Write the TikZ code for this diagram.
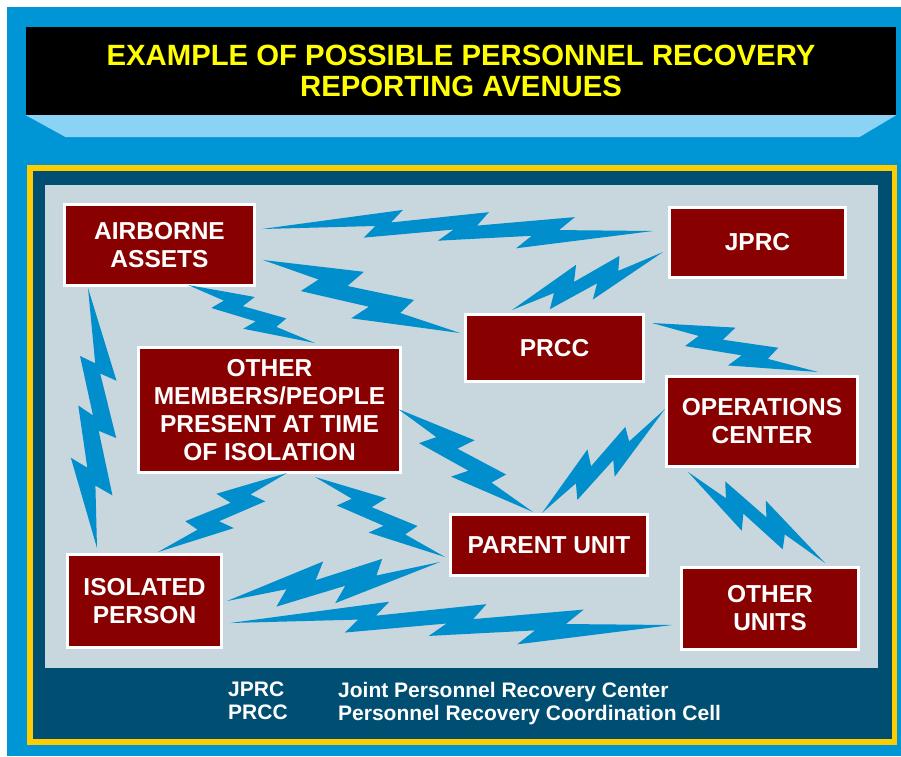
\documentclass[tikz,border=0pt]{standalone}
\usepackage{fontspec}
\setmainfont{Liberation Sans}
\usetikzlibrary{calc}
\definecolor{framesky}{HTML}{0096D6}
\definecolor{framegold}{HTML}{FFCC00}
\definecolor{paneldeep}{HTML}{004E72}
\definecolor{panelgrey}{HTML}{C8D6DD}
\definecolor{bevelsky}{HTML}{8AD3F4}
\definecolor{boxred}{HTML}{880000}
\definecolor{boltblue}{HTML}{008FCC}
\definecolor{titleyellow}{HTML}{FFFF00}
% lightning bolts: [side]{size}{from}{to}
\newcommand{\twobolt}[4][90]{%
    \pgfmathsetmacro{\blside}{#1}\pgfmathsetmacro{\brside}{0-(#1)}%
    \fill[bolt] (#3)
        -- ($(#3)!.47!(#4)!{24pt*#2}!\blside:(#4)$) -- ($(#3)!.42!(#4)!{5pt*#2}!\blside:(#4)$)
        -- ($(#3)!.74!(#4)!{15pt*#2}!\blside:(#4)$) -- ($(#3)!.70!(#4)!{2pt*#2}!\brside:(#4)$)
        -- (#4)
        -- ($(#3)!.49!(#4)!{24pt*#2}!\brside:(#4)$) -- ($(#3)!.55!(#4)!{7pt*#2}!\brside:(#4)$)
        -- ($(#3)!.22!(#4)!{16pt*#2}!\brside:(#4)$) -- ($(#3)!.28!(#4)!{1pt*#2}!\blside:(#4)$)
        -- cycle;%
}
\newcommand{\threebolt}[4][90]{%
    \pgfmathsetmacro{\blside}{#1}\pgfmathsetmacro{\brside}{0-(#1)}%
    \fill[bolt] (#3)
        -- ($(#3)!.36!(#4)!{22pt*#2}!\blside:(#4)$) -- ($(#3)!.33!(#4)!{8pt*#2}!\blside:(#4)$)
        -- ($(#3)!.58!(#4)!{20pt*#2}!\blside:(#4)$) -- ($(#3)!.55!(#4)!{5pt*#2}!\blside:(#4)$)
        -- ($(#3)!.80!(#4)!{15pt*#2}!\blside:(#4)$) -- ($(#3)!.76!(#4)!{.5pt*#2}!\blside:(#4)$)
        -- (#4)
        -- ($(#3)!.65!(#4)!{20pt*#2}!\brside:(#4)$) -- ($(#3)!.69!(#4)!{6pt*#2}!\brside:(#4)$)
        -- ($(#3)!.45!(#4)!{12pt*#2}!\brside:(#4)$) -- ($(#3)!.49!(#4)!{.5pt*#2}!\blside:(#4)$)
        -- ($(#3)!.26!(#4)!{9pt*#2}!\brside:(#4)$) -- ($(#3)!.29!(#4)!{4pt*#2}!\blside:(#4)$)
        -- cycle;%
}

\begin{document}
\begin{tikzpicture}[x=1pt, y=-1pt,
        unitbox/.style={fill=boxred, draw=white, line width=3pt, text=white, align=center,
            inner sep=0pt, font=\fontsize{24.5}{28}\selectfont\bfseries},
        bolt/.style={fill=boltblue},
        legend/.style={text=white, align=left, inner sep=0pt, anchor=north west,
            font=\fontsize{21}{23}\selectfont\bfseries}]
    \useasboundingbox (0,0) rectangle (901,756);
    \fill[white] (0,0) rectangle (901,756);
    \fill[framesky] (7,7) rectangle (901,756);

    \node[fill=black, minimum width=870pt, minimum height=88pt, inner sep=0pt, align=center,
        text=titleyellow, font=\fontsize{29.3}{31}\selectfont\bfseries] (title) at (461,71)
        {EXAMPLE OF POSSIBLE PERSONNEL RECOVERY\\REPORTING AVENUES};
    \fill[bevelsky] (title.south west) -- (title.south east) -- ++(-37,22)
        -- ($(title.south west)+(40,22)$) -- cycle;

    \fill[framegold] (27,165) rectangle (897,745);
    \fill[paneldeep] (33,171) rectangle (892,739);
    \fill[panelgrey] (45,185) rectangle (878,668);

    \node[unitbox, minimum width=190pt, minimum height=81pt] (air) at (159.5,245) {AIRBORNE\\ASSETS};
    \node[unitbox, minimum width=176pt, minimum height=70pt] (jprc) at (757.5,242.5) {JPRC};
    \node[unitbox, minimum width=178pt, minimum height=67pt] (prcc) at (554.5,348) {PRCC};
    \node[unitbox, minimum width=262pt, minimum height=125pt] (members) at (269.5,410)
        {OTHER\\MEMBERS/PEOPLE\\PRESENT AT TIME\\OF ISOLATION};
    \node[unitbox, minimum width=191pt, minimum height=90pt] (ops) at (762,421.5) {OPERATIONS\\CENTER};
    \node[unitbox, minimum width=197pt, minimum height=61pt] (parent) at (549,545) {PARENT UNIT};
    \node[unitbox, minimum width=177pt, minimum height=82pt] (others) at (770,608.5) {OTHER\\UNITS};
    \node[unitbox, minimum width=154pt, minimum height=93pt] (isolated) at (144.5,601) {ISOLATED\\PERSON};

    \node[legend] (abbr) at (228,682) {JPRC\\PRCC};
    \node[legend] (defs) at (338,682) {Joint Personnel Recovery Center\\Personnel Recovery Coordination Cell};

    \coordinate (a1) at ($(air)+(102.5,-16)$);      \coordinate (b1) at ($(jprc)+(-104.5,-11.5)$);
    \coordinate (a2) at ($(air)+(103.5,15)$);       \coordinate (b2) at ($(prcc)+(-94.5,-15)$);
    \coordinate (a3) at ($(air)+(28.5,40)$);        \coordinate (b3) at ($(members)+(45.5,-67)$);
    \coordinate (a4) at ($(prcc)+(-42.5,-38)$);     \coordinate (b4) at ($(jprc)+(-94.5,9.5)$);
    \coordinate (a5) at ($(prcc)+(97.5,-25)$);      \coordinate (b5) at ($(ops)+(56,-49.5)$);
    \coordinate (a6) at ($(air)+(-71.5,43)$);       \coordinate (b6) at ($(isolated)+(-47.5,-53)$);
    \coordinate (a7) at ($(members)+(17.5,63)$);    \coordinate (b7) at ($(isolated)+(13.5,-49)$);
    \coordinate (a8) at ($(members)+(45.5,67)$);    \coordinate (b8) at ($(parent)+(-104,12)$);
    \coordinate (a9) at ($(members)+(128.5,-1)$);   \coordinate (b9) at ($(parent)+(-16,-33)$);
    \coordinate (a10) at ($(parent)+(-7,-32)$);     \coordinate (b10) at ($(ops)+(-97,-12.5)$);
    \coordinate (a11) at ($(ops)+(-74,50.5)$);      \coordinate (b11) at ($(others)+(55,-45.5)$);
    \coordinate (a12) at ($(isolated)+(82.5,0)$);   \coordinate (b12) at ($(parent)+(-109,17)$);
    \coordinate (a13) at ($(isolated)+(85.5,22)$);  \coordinate (b13) at ($(others)+(-98,16.5)$);

    \threebolt{.9}{a1}{b1}
    \twobolt{1}{a2}{b2}
    \twobolt{.7}{a3}{b3}
    \twobolt{.8}{a4}{b4}
    \twobolt{.8}{a5}{b5}
    \threebolt{1.15}{a6}{b6}
    \twobolt[-90]{.8}{a7}{b7}
    \twobolt{.8}{a8}{b8}
    \twobolt{.9}{a9}{b9}
    \twobolt{.8}{a10}{b10}
    \twobolt[-90]{.8}{a11}{b11}
    \twobolt{.9}{a12}{b12}
    \threebolt{1}{a13}{b13}
\end{tikzpicture}
\end{document}
